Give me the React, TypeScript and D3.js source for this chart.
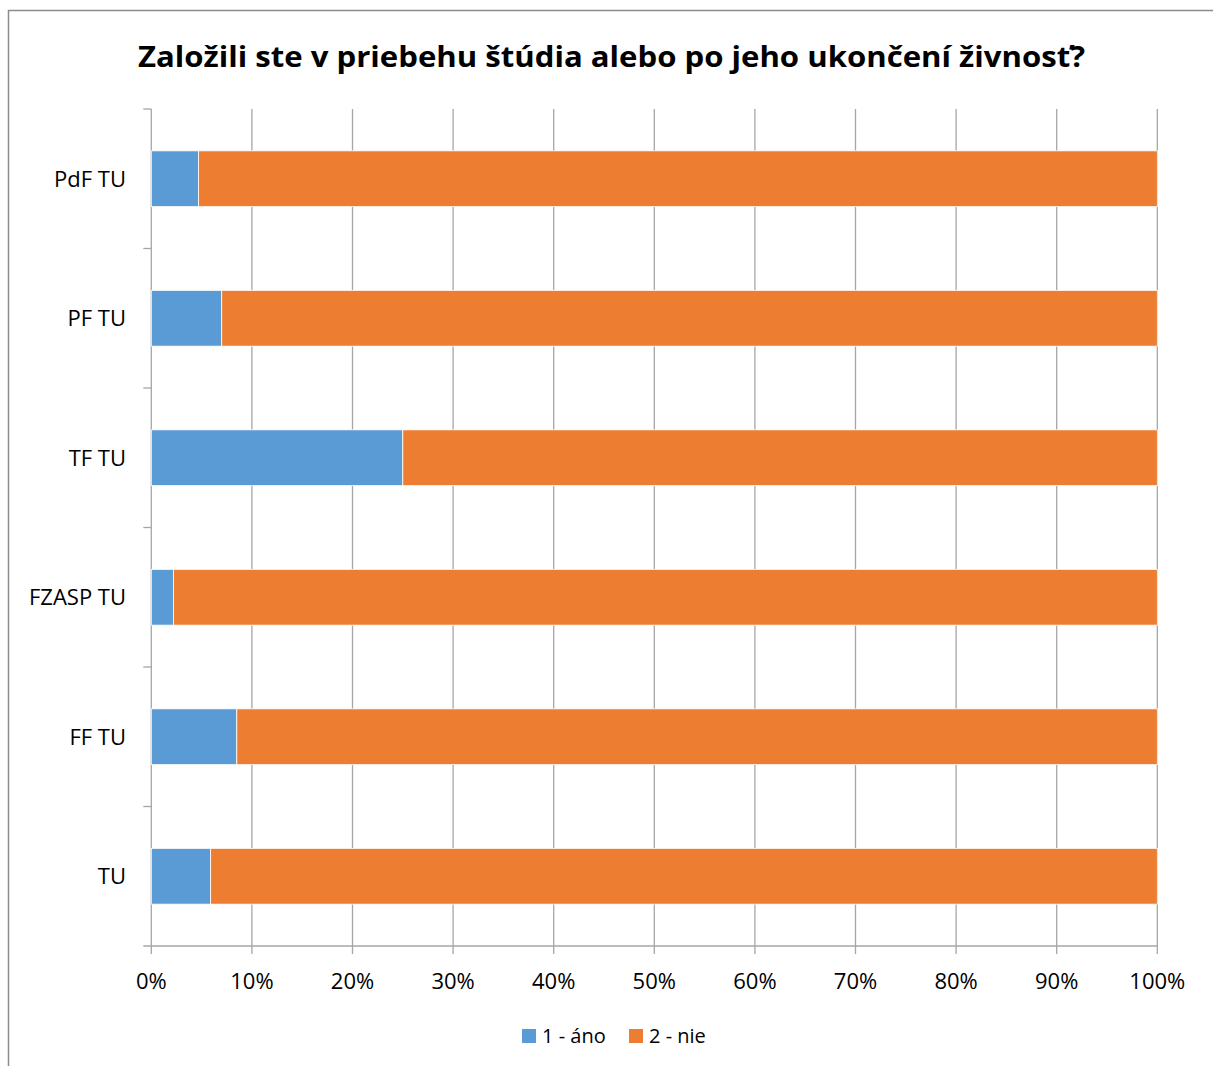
import React from 'react';
import * as d3 from 'd3';

// survey answers, share of respondents (%)
const categories = ['PdF TU', 'PF TU', 'TF TU', 'FZASP TU', 'FF TU', 'TU'];
const ano = [4.7, 7.0, 25.0, 2.2, 8.5, 5.9];
const nie = ano.map(v => 100 - v);
const seriesNames = ['1 - áno', '2 - nie'];
const colors = ['#5B9BD5', '#ED7D31'];
const xTicks = [0, 10, 20, 30, 40, 50, 60, 70, 80, 90, 100];

const W = 1213;
const H = 1066;
const font = '"Open Sans", "Noto Sans", sans-serif';

const App = () => {
  const margin = { top: 109, left: 151.3, right: W - 1157.3, bottom: H - 946 };

  const x = d3.scaleLinear().domain([0, 100]).range([margin.left, W - margin.right]);
  const y = d3.scaleBand().domain(categories).range([margin.top, H - margin.bottom]).paddingInner(0.6).paddingOuter(0.3);
  const yOuter = d3.scaleBand().domain(categories).range([margin.top, H - margin.bottom]);

  const rows = categories.map((c, i) => ({ cat: c, ano: ano[i], nie: nie[i] }));
  const stack = d3.stack<any>().keys(['ano', 'nie'])(rows);

  const y0 = margin.top;
  const y1 = H - margin.bottom;
  const grid = '#a6a6a6';

  return (
    <svg width={W} height={H} style={{ position: 'absolute', left: 0, top: 0 }}>
      <rect x={8.5} y={10.5} width={W + 10} height={H + 10} fill="#fff" stroke="#8c8c8c" strokeWidth={1.5} />

      <text x={611.5} y={67} textAnchor="middle" fontFamily={font} fontWeight="bold" fontSize={29}
        textLength={947} lengthAdjust="spacingAndGlyphs" fill="#000">
        Založili ste v priebehu štúdia alebo po jeho ukončení živnosť?
      </text>

      {/* vertical gridlines */}
      {xTicks.map(t => (
        <line key={t} x1={x(t)} x2={x(t)} y1={y0} y2={y1 + 8} stroke={grid} strokeWidth={1.3} />
      ))}

      {/* bottom axis */}
      <line x1={x(0) - 8} x2={x(100)} y1={y1} y2={y1} stroke={grid} strokeWidth={1.3} />
      {/* left axis ticks */}
      {categories.map(c => (
        <line key={c} x1={x(0) - 8} x2={x(0)} y1={yOuter(c)} y2={yOuter(c)} stroke={grid} strokeWidth={1.3} />
      ))}

      {/* bars */}
      {stack.map((s, si) => (
        <g key={si} fill={colors[si]}>
          {s.map((d, i) => (
            <rect key={i} x={x(d[0])} y={y(categories[i])} width={x(d[1]) - x(d[0])} height={y.bandwidth()}
              stroke="#fff" strokeWidth={0.8} />
          ))}
        </g>
      ))}

      {/* category labels */}
      {categories.map(c => (
        <text key={c} x={126} y={(y(c) || 0) + y.bandwidth() / 2} dy="0.36em" textAnchor="end" fontFamily={font} fontSize={22} fill="#000">
          {c}
        </text>
      ))}

      {/* x tick labels */}
      {xTicks.map(t => (
        <text key={t} x={x(t)} y={989} textAnchor="middle" fontFamily={font} fontSize={22} fill="#000">
          {t}%
        </text>
      ))}

      {/* legend */}
      <rect x={522} y={1029} width={14} height={14} fill={colors[0]} />
      <text x={542} y={1043} fontFamily={font} fontSize={20} fill="#000">{seriesNames[0]}</text>
      <rect x={629} y={1029} width={14} height={14} fill={colors[1]} />
      <text x={649} y={1043} fontFamily={font} fontSize={20} fill="#000">{seriesNames[1]}</text>
    </svg>
  );
};

export default App;
